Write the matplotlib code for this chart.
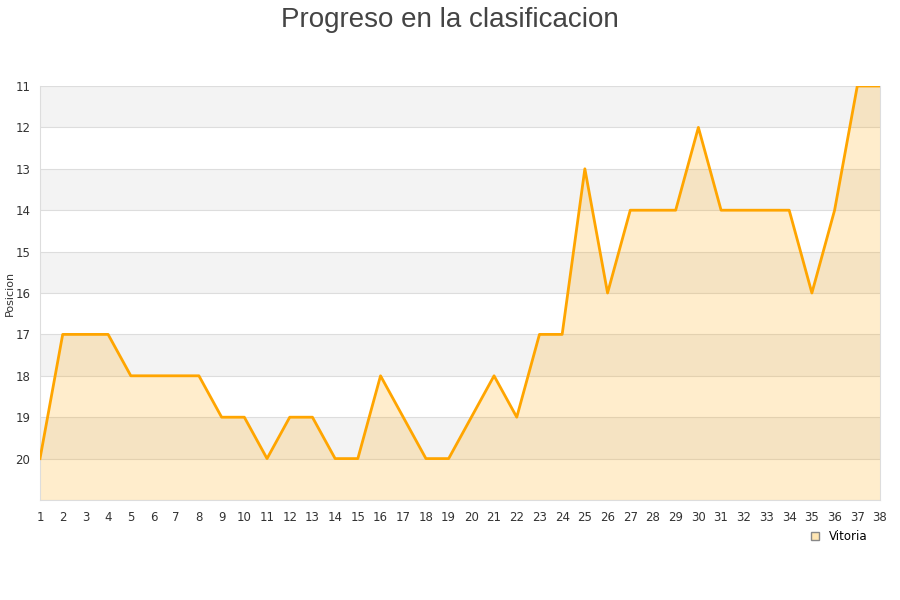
import numpy as np
import matplotlib
matplotlib.use("Agg")
import matplotlib.pyplot as plt
from matplotlib.lines import Line2D

# Datos
jornadas = list(range(1, 39))
posicion = [20, 17, 17, 17, 18, 18, 18, 18, 19, 19,
            20, 19, 19, 20, 20, 18, 19, 20, 20, 19,
            18, 19, 17, 17, 13, 16, 14, 14, 14, 12,
            14, 14, 14, 14, 16, 14, 11, 11]
y_ticks = list(range(11, 21))
equipo = "Vitoria"

fig = plt.figure(figsize=(9, 6), dpi=100)
ax = fig.add_axes([40 / 900, 100 / 600, 840 / 900, 414 / 600])

# Bandas alternas
for y0 in range(11, 21, 2):
    ax.axhspan(y0, y0 + 1, color="#f3f3f3", zorder=0, lw=0)
for y in range(11, 22):
    ax.axhline(y, color="#dddddd", lw=0.8, zorder=1)

ax.fill_between(jornadas, posicion, 21, color="orange", alpha=0.2, lw=0, zorder=2)
ax.plot(jornadas, posicion, color="orange", lw=2, zorder=3)

ax.set_xlim(1, 38)
ax.set_ylim(21, 11)
ax.set_xticks(jornadas)
ax.set_yticks(y_ticks)
ax.tick_params(axis="both", length=0, labelsize=8.5, colors="#333333")
ax.tick_params(axis="x", pad=8)
ax.tick_params(axis="y", pad=7)
for s in ["top"]:
    ax.spines[s].set_visible(False)
for s in ["left", "bottom", "right"]:
    ax.spines[s].set_color("#dddddd")

fig.text(10 / 900, 1 - 293 / 600, "Posicion", rotation=90, ha="center", va="center",
         fontsize=8, color="#333333")
fig.text(0.5, 0.988, "Progreso en la clasificacion", ha="center", va="top",
         fontsize=20, color="#444444", family="Liberation Sans")

handle = Line2D([], [], marker="s", ls="", markersize=6,
                markerfacecolor="#ffe6b3", markeredgecolor="#888888")
fig.legend([handle], [equipo], loc="center", bbox_to_anchor=(0.928, 0.105),
           frameon=False, fontsize=8.5, handletextpad=0.2)

fig.savefig("out.png", dpi=100)
